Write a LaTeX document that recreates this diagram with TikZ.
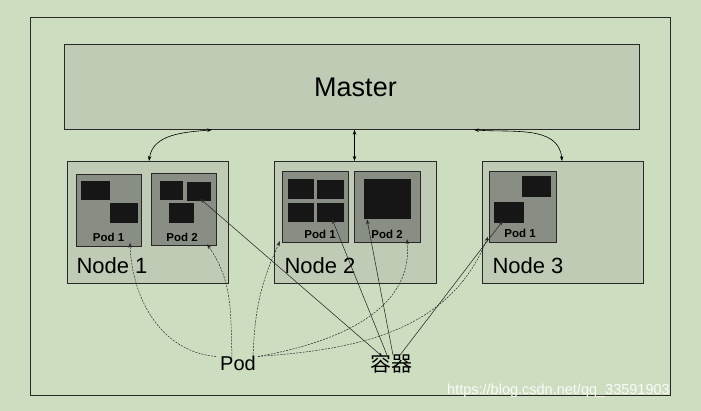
\documentclass[tikz,border=0pt]{standalone}
\usepackage{fontspec}
\setmainfont{Liberation Sans}
\newfontfamily\cjk{Noto Sans CJK SC}
\usetikzlibrary{arrows.meta}
\definecolor{bg}{RGB}{205,221,192}
\definecolor{boxfill}{RGB}{192,203,182}
\definecolor{podfill}{RGB}{136,142,131}
\definecolor{ctrfill}{RGB}{22,22,22}
\definecolor{linecol}{RGB}{40,40,40}
\tikzset{
  bigbox/.style={draw=linecol, line width=0.8pt, fill=boxfill, anchor=north west, inner sep=0pt},
  podbox/.style={draw=linecol, line width=0.7pt, fill=podfill, anchor=north west, inner sep=0pt},
  ctr/.style={fill=ctrfill, draw=none, anchor=north west, inner sep=0pt},
  podlabel/.style={font=\bfseries\fontsize{11.5}{11.5}\selectfont, text=black, inner sep=0pt},
  nodelabel/.style={font=\fontsize{22}{22}\selectfont, inner sep=0pt},
  tip/.style={-{Stealth[length=5pt,width=3.5pt]}},
  twotip/.style={{Stealth[length=5pt,width=3.5pt]}-{Stealth[length=5pt,width=3.5pt]}},
  podln/.style={tip, draw=linecol, line width=0.5pt, dash pattern=on 2pt off 1.2pt},
  ctrln/.style={tip, draw=linecol, line width=0.55pt},
  mln/.style={twotip, draw=black, line width=0.6pt}
}
\begin{document}
\begin{tikzpicture}[x=1pt,y=-1pt]
\fill[bg] (0,0) rectangle (701,411);
\useasboundingbox (0,0) rectangle (701,411);
% outer frame
\draw[linecol, line width=0.7pt] (30.5,17) rectangle (670.5,395);
% master
\node[bigbox, minimum width=575.5pt, minimum height=85pt] (master) at (63.5,44) {};
\node[font=\fontsize{27}{27}\selectfont, inner sep=0pt] (mtext) at (355.5,87) {Master};
% nodes
\node[bigbox, minimum width=161pt, minimum height=122pt] (n1) at (67,161) {};
\node[bigbox, minimum width=162pt, minimum height=122pt] (n2) at (274,161) {};
\node[bigbox, minimum width=161.5pt, minimum height=122pt] (n3) at (481.5,161) {};
\node[nodelabel] (n1t) at (112,266) {Node 1};
\node[nodelabel] (n2t) at (320,266) {Node 2};
\node[nodelabel] (n3t) at (528,266) {Node 3};
% pods
\node[podbox, minimum width=65pt, minimum height=72pt] (n1p1) at (76,174) {};
\node[podbox, minimum width=65pt, minimum height=72pt] (n1p2) at (151,173) {};
\node[podbox, minimum width=66pt, minimum height=71.5pt] (n2p1) at (282,171) {};
\node[podbox, minimum width=66pt, minimum height=71.5pt] (n2p2) at (354,171) {};
\node[podbox, minimum width=67pt, minimum height=71pt] (n3p1) at (489,171) {};
\node[podlabel] (l11) at (108.5,237.5) {Pod 1};
\node[podlabel] (l12) at (182,237.5) {Pod 2};
\node[podlabel] (l21) at (320,234) {Pod 1};
\node[podlabel] (l22) at (387,234) {Pod 2};
\node[podlabel] (l31) at (520,233) {Pod 1};
% containers
\node[ctr, minimum width=28.6pt, minimum height=19pt] (c111) at (80.7,181) {};
\node[ctr, minimum width=28.4pt, minimum height=19.4pt] (c112) at (109.3,203.3) {};
\node[ctr, minimum width=23.4pt, minimum height=19pt] (c121) at (159.3,181) {};
\node[ctr, minimum width=24pt, minimum height=19pt] (c122) at (186.7,181.7) {};
\node[ctr, minimum width=24.3pt, minimum height=19.4pt] (c123) at (169,203.3) {};
\node[ctr, minimum width=26pt, minimum height=19.7pt] (c211) at (287.3,179.3) {};
\node[ctr, minimum width=26.6pt, minimum height=19pt] (c212) at (316.7,180) {};
\node[ctr, minimum width=26pt, minimum height=19pt] (c213) at (287.3,203.3) {};
\node[ctr, minimum width=26.6pt, minimum height=19pt] (c214) at (316.7,203.3) {};
\node[ctr, minimum width=47.4pt, minimum height=39.7pt] (c221) at (363.3,179.3) {};
\node[ctr, minimum width=29pt, minimum height=20.7pt] (c311) at (521.7,176) {};
\node[ctr, minimum width=29.3pt, minimum height=21pt] (c312) at (494,201.7) {};
% master connectors
\draw[mln] (149,0 |- n1.north) to[out=82,in=185] (212,0 |- master.south);
\draw[mln] (354.5,0 |- master.south) -- (354.5,0 |- n2.north);
\draw[mln] (474,0 |- master.south) to[out=-5,in=95] (562,0 |- n3.north);
% labels
\node[font=\fontsize{20}{20}\selectfont, inner sep=0pt] (pod) at (238,363) {Pod};
\node[font=\cjk\fontsize{21}{21}\selectfont, inner sep=0pt] (kr) at (391,363) {容器};
% Pod connectors
\draw[podln] ([xshift=-4pt,yshift=-1pt]pod.north west) to[out=175,in=-88] ([yshift=4pt]130,0 |- n1p1.south);
\draw[podln] ([xshift=-6pt,yshift=-2pt]pod.north) to[out=92,in=-55] ([yshift=1.5pt]207,0 |- n1p2.south);
\draw[podln] ([xshift=15pt,yshift=-2pt]pod.north) to[out=88,in=-115] ([xshift=-2pt,yshift=2pt]n2p1.south west);
\draw[podln] ([xshift=2pt,yshift=-1pt]pod.north east) to[out=10,in=-85] ([yshift=4pt]407,0 |- n2p2.south);
\draw[podln] ([xshift=2pt,yshift=-1pt]pod.north east) to[out=4,in=-112] ([xshift=-1pt,yshift=6pt]n3p1.south west);
% container connectors
\draw[ctrln] ([xshift=-8pt,yshift=-4pt]kr.north) -- ([yshift=2.5pt]200,0 |- c122.south);
\draw[ctrln] ([xshift=-4pt,yshift=-2pt]kr.north) -- ([yshift=4pt]332,0 |- c214.south);
\draw[ctrln] ([xshift=2pt,yshift=-2pt]kr.north) -- ([yshift=0pt]367,0 |- c221.south);
\draw[ctrln] ([xshift=9pt,yshift=-2pt]kr.north) -- ([yshift=2.5pt]503,0 |- c312.south);
% watermark
\node[font=\fontsize{14.5}{14.5}\selectfont, text=white!92!bg, inner sep=0pt, anchor=west] (wm) at (447,391) {https://blog.csdn.net/qq\_33591903};
\end{tikzpicture}
\end{document}
